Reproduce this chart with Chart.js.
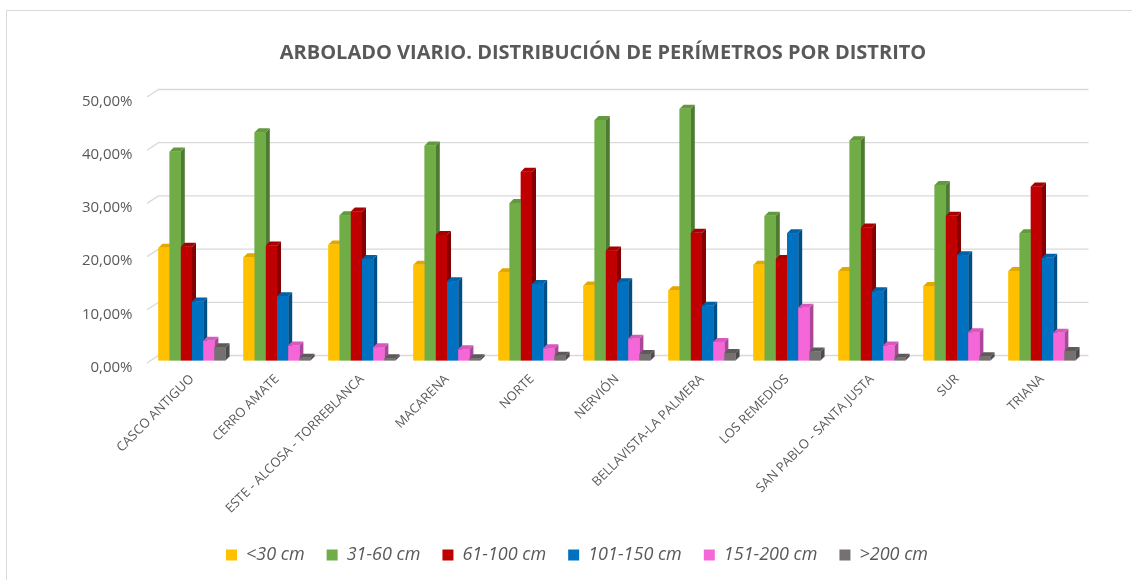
<!DOCTYPE html>
<html>
<head>
<meta charset="utf-8">
<script src="https://cdn.jsdelivr.net/npm/chart.js@4/dist/chart.umd.min.js"></script>
<style>
  html, body { margin: 0; padding: 0; background: #fff; overflow: hidden; }
</style>
</head>
<body>
<canvas id="chart" width="1132" height="580"></canvas>
<script>
// Data (percent of trees per district)
const chartTitle = 'ARBOLADO VIARIO. DISTRIBUCIÓN DE PERÍMETROS POR DISTRITO';
const districts = ['CASCO ANTIGUO', 'CERRO AMATE', 'ESTE - ALCOSA - TORREBLANCA', 'MACARENA', 'NORTE',
  'NERVIÓN', 'BELLAVISTA-LA PALMERA', 'LOS REMEDIOS', 'SAN PABLO - SANTA JUSTA', 'SUR', 'TRIANA'];
const seriesNames = ['<30 cm', '31-60 cm', '61-100 cm', '101-150 cm', '151-200 cm', '>200 cm'];
const under30 = [21.2, 19.4, 21.8, 18.0, 16.6, 14.1, 13.2, 18.0, 16.8, 14.0, 16.8];
const from31to60 = [39.3, 42.9, 27.3, 40.4, 29.6, 45.2, 47.3, 27.2, 41.4, 33.0, 23.9];
const from61to100 = [21.4, 21.6, 28.0, 23.6, 35.5, 20.7, 24.0, 19.1, 25.0, 27.2, 32.7];
const from101to150 = [11.1, 12.1, 19.1, 14.9, 14.4, 14.7, 10.3, 23.9, 13.0, 19.8, 19.3];
const from151to200 = [3.7, 2.8, 2.5, 2.1, 2.3, 4.1, 3.5, 9.9, 2.8, 5.3, 5.2];
const over200 = [2.5, 0.5, 0.4, 0.4, 0.9, 1.2, 1.4, 1.7, 0.5, 0.8, 1.8];
const yTicks = [0, 10, 20, 30, 40, 50];

const seriesValues = [under30, from31to60, from61to100, from101to150, from151to200, over200];
const frontColors = ['#FFC000', '#70AD47', '#C00000', '#0070C0', '#F566D8', '#767171'];
const sideColors = ['#B38600', '#4E7A31', '#860000', '#004E86', '#AB479A', '#4F4B4B'];
const topColors = ['#E0A800', '#63993E', '#A80000', '#0062A8', '#D858BE', '#5E5A5A'];
const textGray = '#595959';
const dx = 4, dy = 4;

// light frame around the chart + title
const framePlugin = {
  id: 'frame',
  beforeDraw(chart) {
    const ctx = chart.ctx;
    ctx.save();
    ctx.strokeStyle = '#D9D9D9';
    ctx.lineWidth = 1;
    ctx.beginPath();
    ctx.moveTo(6.5, chart.height);
    ctx.lineTo(6.5, 10.5);
    ctx.lineTo(chart.width, 10.5);
    ctx.stroke();
    ctx.fillStyle = textGray;
    ctx.font = 'bold 20px "Open Sans"';
    ctx.textAlign = 'center';
    ctx.textBaseline = 'middle';
    ctx.fillText(chartTitle, 603, 53);
    ctx.restore();
  }
};

// back wall gridlines with a small perspective step at the left
const wallGrid = {
  id: 'wallGrid',
  beforeDatasetsDraw(chart) {
    const ctx = chart.ctx;
    const yScale = chart.scales.y;
    const { left, right } = chart.chartArea;
    ctx.save();
    ctx.strokeStyle = '#D9D9D9';
    ctx.lineWidth = 1.3;
    yScale.ticks.forEach(t => {
      const y = yScale.getPixelForValue(t.value);
      ctx.beginPath();
      ctx.moveTo(left - 2.5, y + 2.5);
      ctx.lineTo(left + 9, y - 5);
      ctx.lineTo(right + 4, y - 5);
      ctx.stroke();
    });
    ctx.restore();
  }
};

// redraw each bar left to right with its side and top faces
const bars3d = {
  id: 'bars3d',
  afterDatasetsDraw(chart) {
    const ctx = chart.ctx;
    ctx.save();
    districts.forEach((d, j) => {
      seriesValues.forEach((s, i) => {
        const bar = chart.getDatasetMeta(i).data[j];
        const { x, y, base, width } = bar.getProps(['x', 'y', 'base', 'width'], true);
        const x1 = x - width / 2, x2 = x + width / 2;
        ctx.fillStyle = sideColors[i];
        ctx.beginPath();
        ctx.moveTo(x2, y); ctx.lineTo(x2 + dx, y - dy); ctx.lineTo(x2 + dx, base - dy); ctx.lineTo(x2, base);
        ctx.closePath(); ctx.fill();
        ctx.fillStyle = topColors[i];
        ctx.beginPath();
        ctx.moveTo(x1, y); ctx.lineTo(x1 + dx, y - dy); ctx.lineTo(x2 + dx, y - dy); ctx.lineTo(x2, y);
        ctx.closePath(); ctx.fill();
        ctx.fillStyle = frontColors[i];
        ctx.fillRect(x1, y, width, base - y);
      });
    });
    ctx.restore();
  }
};

const datasets = seriesNames.map((name, i) => ({
  label: name,
  data: seriesValues[i],
  backgroundColor: frontColors[i],
  borderWidth: 0,
  categoryPercentage: 0.79,
  barPercentage: 1.0
}));

new Chart(document.getElementById('chart'), {
  type: 'bar',
  data: { labels: districts, datasets: datasets },
  options: {
    responsive: false,
    animation: false,
    layout: { padding: { left: 22, top: 94.5, right: 0, bottom: 6 } },
    plugins: {
      title: { display: false },
      tooltip: { enabled: false },
      legend: {
        position: 'bottom',
        labels: {
          boxWidth: 11,
          boxHeight: 11,
          padding: 22,
          color: textGray,
          font: { family: '"Open Sans"', size: 18, style: 'italic' }
        }
      }
    },
    scales: {
      x: {
        grid: { display: false },
        border: { display: false },
        ticks: {
          autoSkip: false,
          minRotation: 45,
          maxRotation: 45,
          color: textGray,
          font: { family: '"Open Sans"', size: 13 }
        },
        afterFit(scale) { scale.height = 163.5; }
      },
      y: {
        min: 0,
        max: 50,
        grid: { display: false },
        border: { display: false },
        afterBuildTicks(scale) { scale.ticks = yTicks.map(v => ({ value: v })); },
        ticks: {
          padding: 9,
          labelOffset: 7,
          color: textGray,
          font: { family: '"Open Sans"', size: 15 },
          callback: v => v.toFixed(2).replace('.', ',') + '%'
        },
        afterFit(scale) { scale.width = 127.5; }
      },
      yRight: {
        position: 'right',
        display: true,
        grid: { display: false },
        border: { display: false },
        ticks: { display: false },
        afterFit(scale) { scale.width = 47.5; }
      }
    }
  },
  plugins: [framePlugin, wallGrid, bars3d]
});
</script>
</body>
</html>
